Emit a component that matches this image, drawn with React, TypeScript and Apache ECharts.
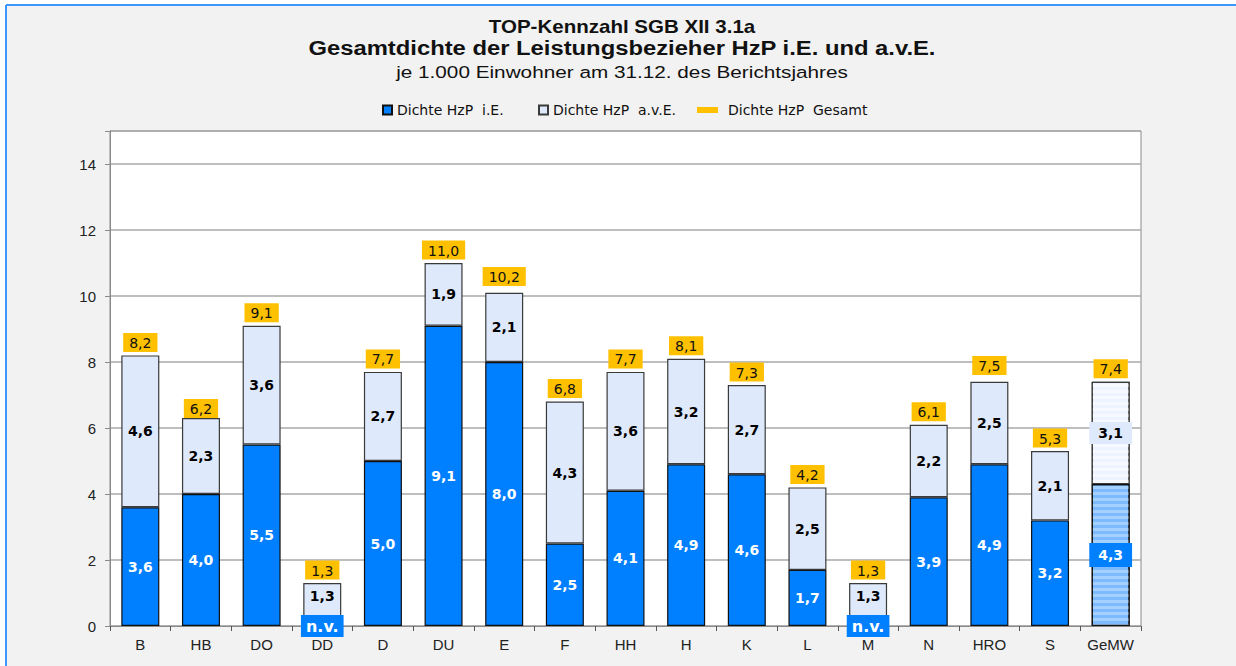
import React, { useEffect, useRef } from 'react';
import * as echarts from 'echarts';

const categories = ['B', 'HB', 'DO', 'DD', 'D', 'DU', 'E', 'F', 'HH', 'H', 'K', 'L', 'M', 'N', 'HRO', 'S', 'GeMW'];
const dichteIE: (number | null)[] = [3.6, 4.0, 5.5, null, 5.0, 9.1, 8.0, 2.5, 4.1, 4.9, 4.6, 1.7, null, 3.9, 4.9, 3.2, 4.3];
const dichteAvE: number[] = [4.6, 2.3, 3.6, 1.3, 2.7, 1.9, 2.1, 4.3, 3.6, 3.2, 2.7, 2.5, 1.3, 2.2, 2.5, 2.1, 3.1];
const dichteGesamt: number[] = [8.2, 6.2, 9.1, 1.3, 7.7, 11.0, 10.2, 6.8, 7.7, 8.1, 7.3, 4.2, 1.3, 6.1, 7.5, 5.3, 7.4];
const seriesNames = ['Dichte HzP  i.E.', 'Dichte HzP  a.v.E.', 'Dichte HzP  Gesamt'];
const titleLines = [
  'TOP-Kennzahl SGB XII 3.1a',
  'Gesamtdichte der Leistungsbezieher HzP i.E. und a.v.E.',
  'je 1.000 Einwohner am 31.12. des Berichtsjahres',
];
const averageCategory = 'GeMW';
const missingLabel = 'n.v.';
const yMin = 0;
const yMax = 15;
const yInterval = 2;

const BLUE = '#0080FF';
const LIGHT = '#DEE9FB';
const ORANGE = '#FFC000';
const LABEL_FONT = '"DejaVu Sans", "Liberation Sans", Arial, sans-serif';
const AXIS_FONT = '"Liberation Sans", Arial, sans-serif';

const fmt = (v: number) => v.toFixed(1).replace('.', ',');

export default function App() {
  const ref = useRef<HTMLDivElement>(null);

  useEffect(() => {
    if (!ref.current) return;
    const chart = echarts.init(ref.current, undefined, { renderer: 'svg' });

    const ieData = dichteIE.map((v, i) => {
      if (v === null) {
        return {
          value: 0,
          itemStyle: { borderWidth: 0 },
          label: {
            formatter: missingLabel,
            backgroundColor: BLUE,
            padding: [3, 5, 3, 5],
            fontSize: 16,
          },
        };
      }
      if (categories[i] === averageCategory) {
        return {
          value: v,
          itemStyle: {
            color: '#7DBAFF',
            decal: {
              symbol: 'rect',
              symbolSize: 1,
              color: '#A3D0FF',
              dashArrayX: [1, 0],
              dashArrayY: [3, 3],
              rotation: 0,
            },
          },
          label: { backgroundColor: BLUE, padding: [5, 9, 5, 9] },
        };
      }
      return v;
    });

    const aveData = dichteAvE.map((v, i) => {
      if (dichteIE[i] === null) {
        return { value: v, label: { offset: [0, -9] } };
      }
      if (categories[i] === averageCategory) {
        return {
          value: v,
          itemStyle: {
            color: '#EEF4FF',
            decal: {
              symbol: 'rect',
              symbolSize: 1,
              color: '#F6F9FF',
              dashArrayX: [1, 0],
              dashArrayY: [3, 3],
              rotation: 0,
            },
          },
          label: { backgroundColor: LIGHT, padding: [4, 9, 4, 9] },
        };
      }
      return v;
    });

    const legendText = {
      fontFamily: LABEL_FONT,
      fontSize: 14,
      color: '#111',
    };

    const option: any = {
      animation: false,
      backgroundColor: '#F2F2F2',
      graphic: [
        { type: 'rect', shape: { x: 0, y: 0, width: 1236, height: 5 }, style: { fill: '#fff' }, silent: true },
        { type: 'rect', shape: { x: 0, y: 0, width: 6, height: 666 }, style: { fill: '#fff' }, silent: true },
        { type: 'line', shape: { x1: 6, y1: 5, x2: 1236, y2: 5 }, style: { stroke: '#3D97FF', lineWidth: 2 }, silent: true },
        { type: 'line', shape: { x1: 6, y1: 5, x2: 6, y2: 666 }, style: { stroke: '#3D97FF', lineWidth: 2 }, silent: true },
        {
          type: 'text', x: 622, y: 26.5, scaleX: 1.14, silent: true,
          style: {
            text: titleLines[0], fontFamily: AXIS_FONT, fontSize: 18, fontWeight: 'bold', fill: '#111',
            textAlign: 'center', textVerticalAlign: 'middle', verticalAlign: 'middle',
          },
        },
        {
          type: 'text', x: 622, y: 48.5, scaleX: 1.19, silent: true,
          style: {
            text: titleLines[1], fontFamily: AXIS_FONT, fontSize: 20, fontWeight: 'bold', fill: '#111',
            textAlign: 'center', textVerticalAlign: 'middle', verticalAlign: 'middle',
          },
        },
        {
          type: 'text', x: 622, y: 72, scaleX: 1.22, silent: true,
          style: {
            text: titleLines[2], fontFamily: AXIS_FONT, fontSize: 17, fontWeight: 'normal', fill: '#111',
            textAlign: 'center', textVerticalAlign: 'middle', verticalAlign: 'middle',
          },
        },
      ],
      legend: [
        {
          data: [{ name: seriesNames[0], icon: 'rect' }],
          left: 377, top: 98, itemWidth: 9, itemHeight: 9, selectedMode: false,
          textStyle: legendText,
        },
        {
          data: [{ name: seriesNames[1], icon: 'rect' }],
          left: 533, top: 98, itemWidth: 9, itemHeight: 9, selectedMode: false,
          textStyle: legendText,
        },
        {
          data: [{ name: seriesNames[2], icon: 'rect', itemStyle: { color: ORANGE, borderWidth: 0 } }],
          left: 692, top: 98, itemWidth: 21, itemHeight: 6, selectedMode: false,
          textStyle: { ...legendText, padding: [0, 0, 0, 5] },
        },
      ],
      grid: {
        left: 110, right: 95, top: 131, bottom: 40,
        show: true, backgroundColor: '#fff', borderColor: '#8A8A8A', borderWidth: 1,
        containLabel: false,
      },
      xAxis: {
        type: 'category',
        data: categories,
        axisLine: { show: true, lineStyle: { color: '#8A8A8A', width: 1 } },
        axisTick: { show: true, alignWithLabel: false, interval: 0, length: 5, lineStyle: { color: '#555' } },
        axisLabel: { interval: 0, fontFamily: AXIS_FONT, fontSize: 15, color: '#222', margin: 11 },
        splitLine: { show: false },
      },
      yAxis: {
        type: 'value',
        min: yMin, max: yMax, interval: yInterval,
        axisLine: { show: true, lineStyle: { color: '#8A8A8A', width: 1 } },
        axisTick: { show: true, length: 5, lineStyle: { color: '#8A8A8A' } },
        axisLabel: {
          fontFamily: AXIS_FONT, fontSize: 15, color: '#222', margin: 14,
          formatter: (v: number) => (v % 2 === 0 && v < yMax ? String(v) : ''),
        },
        splitLine: { show: true, lineStyle: { color: '#A8A8A8', width: 1.5 } },
      },
      series: [
        {
          name: seriesNames[0],
          type: 'bar',
          stack: 'dichte',
          barWidth: 38,
          data: ieData,
          itemStyle: { color: BLUE, borderColor: '#111', borderWidth: 1.2 },
          label: {
            show: true, position: 'inside', formatter: (p: any) => fmt(p.value),
            color: '#fff', fontFamily: LABEL_FONT, fontWeight: 'bold', fontSize: 14,
          },
          emphasis: { disabled: true },
          silent: true,
        },
        {
          name: seriesNames[1],
          type: 'bar',
          stack: 'dichte',
          barWidth: 38,
          data: aveData,
          itemStyle: { color: LIGHT, borderColor: '#3A3A3A', borderWidth: 1.2 },
          label: {
            show: true, position: 'inside', formatter: (p: any) => fmt(p.value),
            color: '#000', fontFamily: LABEL_FONT, fontWeight: 'bold', fontSize: 14,
          },
          emphasis: { disabled: true },
          silent: true,
        },
        {
          name: seriesNames[2],
          type: 'line',
          data: dichteGesamt,
          symbol: 'circle',
          symbolSize: 1,
          itemStyle: { color: 'transparent' },
          lineStyle: { width: 0, opacity: 0 },
          label: {
            show: true, position: 'top', distance: 3, formatter: (p: any) => fmt(p.value),
            color: '#111', fontFamily: LABEL_FONT, fontSize: 14,
            backgroundColor: ORANGE, padding: [3, 6, 2, 6],
          },
          emphasis: { disabled: true },
          silent: true,
          z: 5,
        },
      ],
    };

    chart.setOption(option);
    return () => chart.dispose();
  }, []);

  return <div ref={ref} style={{ position: 'fixed', left: 0, top: 0, width: 1236, height: 666 }} />;
}
